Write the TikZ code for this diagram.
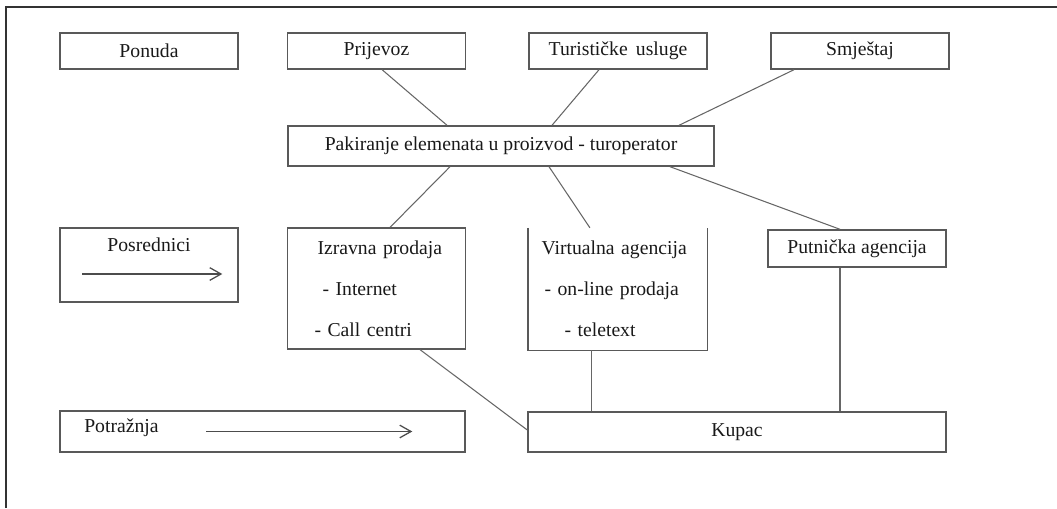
\documentclass[tikz,border=0pt]{standalone}
\usepackage{fontspec}
\setmainfont{Liberation Serif}
\usetikzlibrary{arrows.meta}

\begin{document}
\begin{tikzpicture}[
    >={Straight Barb[length=8pt,width=9pt]},
    every node/.style={font=\fontsize{14}{17}\selectfont, text=black!90},
    box/.style={
        rectangle,
        draw=black!65,
        line width=1pt,
        minimum width=4.45cm,
        minimum height=0.9cm,
        inner sep=0pt
    },
    widebox/.style={box, minimum width=10.45cm, minimum height=1cm},
    tallbox/.style={
        box,
        minimum height=3.025cm,
        align=left,
        text width=4.45cm,
        font=\fontsize{14}{29}\selectfont
    },
    edge/.style={draw=black!65, line width=1pt},
    link/.style={draw=black!60, line width=0.75pt},
    flow/.style={->, draw=black!70, line width=0.9pt},
    frame/.style={draw=black!80, line width=1.4pt}
]
\useasboundingbox (0,0) rectangle (26.425,-12.7);
\draw[frame] (0.15,-12.7) |- (26.425,-0.175);

% ==================== Top row: supply ====================
\node[box] (ponuda)   at ( 3.725,-1.275) {Ponuda};
\node[box] (prijevoz) at ( 9.4125,-1.275) {Prijevoz};
\node[box] (usluge)   at (15.45,-1.275) {Turističke\, usluge};
\node[box] (smjestaj) at (21.5,-1.275) {Smještaj};

\node[widebox, minimum width=10.65cm] (paket) at (12.525,-3.65)
  {Pakiranje elemenata u proizvod - turoperator};

\draw[link] ([xshift=0.14cm]prijevoz.south) -- ([xshift=-1.35cm]paket.north);
\draw[link] ([xshift=-0.475cm]usluge.south) -- ([xshift=1.275cm]paket.north);
\draw[link] ([xshift=-1.65cm]smjestaj.south) -- ([xshift=4.45cm]paket.north);

% ==================== Middle row: intermediaries ====================
\node[box, minimum height=1.85cm] (posrednici) at (3.725,-6.625) {};
\node at ([yshift=0.5cm]posrednici.center) {Posrednici};
\draw[flow] ([xshift=0.575cm,yshift=-0.225cm]posrednici.west)
  -- ([xshift=4.075cm,yshift=-0.225cm]posrednici.west);

\node[tallbox] (izravna) at (9.4125,-7.2125) {%
  \hspace*{0.75cm}Izravna prodaja\\
  \hspace*{0.875cm}- Internet\\
  \hspace*{0.675cm}- Call centri%
};
% top edge of this box is not drawn in the original
\node[tallbox, draw=none] (virtualna) at (15.4375,-7.225) {%
  \hspace*{0.325cm}Virtualna agencija\\
  \hspace*{0.4cm}- on-line prodaja\\
  \hspace*{0.9cm}- teletext%
};
\draw[edge] (virtualna.north west) |- (virtualna.south east) -- (virtualna.north east);
\node[box, minimum height=0.925cm] (putnicka) at (21.425,-6.2125) {Putnička agencija};

\draw[link] ([xshift=-1.275cm]paket.south) -- ([xshift=0.34cm]izravna.north);
\draw[link] ([xshift=1.2cm]paket.south) -- ([xshift=-0.69cm]virtualna.north);
\draw[link] ([xshift=4.225cm]paket.south) -- ([xshift=-0.425cm]putnicka.north);

% ==================== Bottom row: demand ====================
\node[box, minimum width=10.125cm, minimum height=1.025cm] (potraznja) at (6.5625,-10.7875) {};
\node[anchor=west] at ([xshift=0.5cm,yshift=0.09cm]potraznja.west) {Potražnja};
\draw[flow] ([xshift=3.675cm]potraznja.west) -- ([xshift=8.825cm]potraznja.west);

\node[widebox] (kupac) at (18.425,-10.8) {Kupac};

\draw[link] ([xshift=1.09cm]izravna.south) -- ([yshift=0.05cm]kupac.west);
\draw[link] ([xshift=-0.66cm]virtualna.south) -- ([xshift=-0.66cm]virtualna.south |- kupac.north);
\draw[link] ([xshift=-0.425cm]putnicka.south) -- ([xshift=-0.425cm]putnicka.south |- kupac.north);

\end{tikzpicture}
\end{document}
